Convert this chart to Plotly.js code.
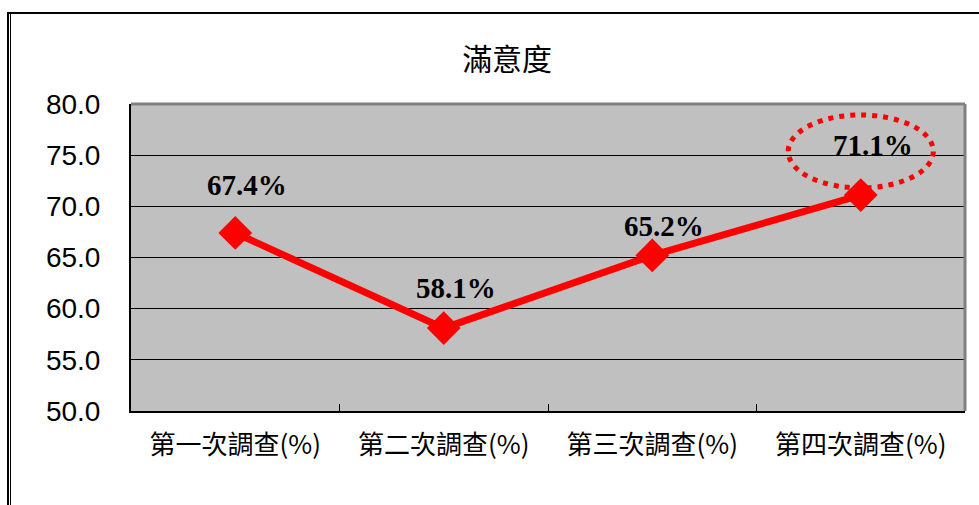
<!DOCTYPE html>
<html>
<head>
<meta charset="utf-8">
<script src="https://cdn.plot.ly/plotly-3.0.1.min.js"></script>
<style>
  html, body { margin: 0; padding: 0; background: #ffffff; }
  #frame { position: absolute; left: 7px; top: 12px; width: 972px; height: 493px;
           border-top: 2px solid #000; border-left: 2px solid #000; box-sizing: border-box; }
  #frame2 { position: absolute; left: 1px; top: 0; bottom: 0; border-left: 1px solid #000; }
  #chart { position: absolute; left: 0; top: 0; width: 979px; height: 505px; }
</style>
</head>
<body>
<div id="frame"><div id="frame2"></div></div>
<div id="chart"></div>
<script>
// ---- data ----
var categories = ['第一次調查(%)', '第二次調查(%)', '第三次調查(%)', '第四次調查(%)'];
var satisfaction = [67.4, 58.1, 65.2, 71.1];
var labelTexts = ['67.4%', '58.1%', '65.2%', '71.1%'];
var highlightIndex = 3;

// ---- styles (label vertical offsets in px) ----
var labelYShift = [48, 40, 29, 50];

var trace = {
  x: categories,
  y: satisfaction,
  type: 'scatter',
  mode: 'lines+markers',
  line: { color: '#ff0000', width: 7 },
  marker: { symbol: 'diamond', size: 26, color: '#ff0000', line: { width: 0 } },
  hoverinfo: 'none',
  cliponaxis: false
};

var annotations = satisfaction.map(function (v, i) {
  return {
    x: categories[i], y: v, xref: 'x', yref: 'y',
    text: '<b>' + labelTexts[i] + '</b>', showarrow: false,
    xshift: 12, yshift: labelYShift[i],
    font: { family: 'Liberation Serif, Times New Roman, serif', size: 29, color: '#000', weight: 'bold' },
    xanchor: 'center', yanchor: 'middle'
  };
});

var hv = satisfaction[highlightIndex];
var shapes = [
  // top and right gray plot border
  { type: 'line', xref: 'paper', yref: 'paper', x0: 0, x1: 1, y0: 1, y1: 1,
    line: { color: '#808080', width: 3 }, layer: 'above' },
  { type: 'line', xref: 'paper', yref: 'paper', x0: 1, x1: 1, y0: 0, y1: 1,
    line: { color: '#808080', width: 3 }, layer: 'above' },
  // dotted highlight ellipse around last label
  { type: 'circle', xref: 'x', yref: 'y',
    x0: highlightIndex - 0.348, x1: highlightIndex + 0.348,
    y0: hv + 0.7, y1: hv + 7.83,
    line: { color: '#ff0000', width: 5, dash: '5px,6px' }, layer: 'above' }
];

var layout = {
  width: 979, height: 505,
  margin: { l: 131, r: 14, t: 104, b: 94 },
  paper_bgcolor: 'rgba(0,0,0,0)',
  plot_bgcolor: '#c0c0c0',
  showlegend: false,
  title: {
    text: '滿意度',
    font: { family: 'Noto Sans CJK TC, Noto Sans CJK SC, sans-serif', size: 30, color: '#000' },
    x: 0.451, xref: 'paper', xanchor: 'center',
    y: 1 - 59 / 505, yref: 'container', yanchor: 'middle'
  },
  xaxis: {
    type: 'category',
    range: [-0.5, 3.5],
    showline: true, linecolor: '#000', linewidth: 2,
    showgrid: false, zeroline: false,
    ticks: 'inside', tickson: 'boundaries', ticklen: 7, tickcolor: '#000', tickwidth: 1,
    ticklabelstandoff: 10,
    tickfont: { family: 'Noto Sans CJK TC, Noto Sans CJK SC, sans-serif', size: 26, color: '#000' },
    fixedrange: true
  },
  yaxis: {
    range: [50, 80], dtick: 5, tick0: 50,
    tickformat: '.1f',
    showline: true, linecolor: '#000', linewidth: 2,
    showgrid: true, gridcolor: '#000', gridwidth: 1,
    zeroline: false, ticks: '',
    ticklabelstandoff: 23,
    tickfont: { family: 'Liberation Sans, Arial, sans-serif', size: 28, color: '#000' },
    fixedrange: true
  },
  annotations: annotations,
  shapes: shapes
};

Plotly.newPlot('chart', [trace], layout, { staticPlot: true, displayModeBar: false });
</script>
</body>
</html>
